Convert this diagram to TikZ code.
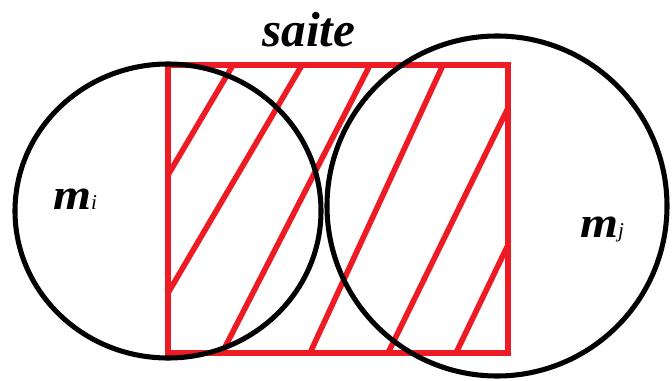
\documentclass[tikz,border=0pt]{standalone}
\usepackage{fontspec}
\setmainfont{Liberation Serif}

\begin{document}
\begin{tikzpicture}[x=0.025cm, y=-0.025cm]
    % Define colours
    \definecolor{circleColour}{HTML}{000000}
    \definecolor{siteColour}{HTML}{ED1C24}

    % Fix the picture size
    \useasboundingbox (0,0) rectangle (672,381);

    % Define corners of the site
    \coordinate (NW) at (168,65);
    \coordinate (SE) at (508,353);

    % Draw the site
    \draw[siteColour, line width=4.6pt] (NW) rectangle (SE);

    % Draw the hatching
    \foreach \xa/\ya/\xb/\yb in {233/65/168/175, 302/65/168/293, 370/65/222/353,
                                 443/65/310/353, 508/108/388/353, 508/245/456/353}
        \draw[siteColour, line width=4pt] (\xa,\ya) -- (\xb,\yb);

    % Draw the two circles
    \draw[circleColour, line width=3.6pt] (168,211) ellipse [x radius=153, y radius=147];
    \draw[circleColour, line width=3.6pt] (497,206) circle [radius=170];

    % Labels
    \node[anchor=base, inner sep=0pt] (site) at (309,47)
        {\fontsize{35}{38}\selectfont\bfseries\itshape saite};
    \node[anchor=base, inner sep=0pt] (mi) at (75,209)
        {\scalebox{1.12}[1]{\fontsize{31}{33}\selectfont\bfseries\itshape m}{\fontsize{15}{16}\selectfont\itshape i}};
    \node[anchor=base, inner sep=0pt] (mj) at (602,237)
        {\scalebox{1.12}[1]{\fontsize{31}{33}\selectfont\bfseries\itshape m}{\fontsize{15}{16}\selectfont\itshape j}};
\end{tikzpicture}
\end{document}
